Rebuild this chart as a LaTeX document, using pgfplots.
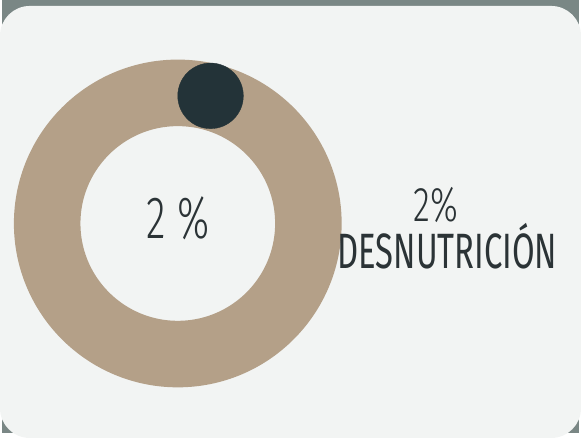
\documentclass[border=0pt]{standalone}
\usepackage{pgfplots}
\pgfplotsset{compat=1.18}
\usepackage{fontspec}
\setmainfont{Fira Sans}
\newfontfamily\condcenter{Fira Sans Light}[FakeStretch=0.68]
\newfontfamily\condpct{Fira Sans Light}[FakeStretch=0.72]
\newfontfamily\cond{Fira Sans}[FakeStretch=0.66]
\definecolor{bgout}{HTML}{7A8785}
\definecolor{card}{HTML}{F2F4F3}
\definecolor{ring}{HTML}{B4A088}
\definecolor{dot}{HTML}{233338}
\definecolor{txt}{HTML}{2B3336}
\begin{document}
\begin{tikzpicture}
\begin{axis}[
  scale only axis, width=581pt, height=436pt,
  xmin=0, xmax=581, ymin=0, ymax=436, y dir=reverse,
  hide axis, clip=false,
]
\fill[bgout] (axis cs:0,0) rectangle (axis cs:581,436);
\fill[card, rounded corners=30pt] (axis cs:-2,6) rectangle (axis cs:583,441);
% donut ring (98 % part) and 2 % marker
\draw[ring, line width=67pt] (axis cs:177,225) circle[radius=131.5];
\addplot[only marks, mark=*, mark size=33pt, mark options={fill=dot, draw=dot}] coordinates {(210,96.5)};
\node[txt, font=\condcenter\fontsize{60}{64}\selectfont, anchor=base] at (axis cs:177,240) {2 \%};
\node[txt, font=\condpct\fontsize{49}{52}\selectfont, anchor=base] at (axis cs:437,223) {2\%};
\node[txt, font=\cond\fontsize{50}{54}\selectfont, anchor=base] at (axis cs:448.5,270) {DESNUTRICIÓN};
\end{axis}
\end{tikzpicture}
\end{document}
